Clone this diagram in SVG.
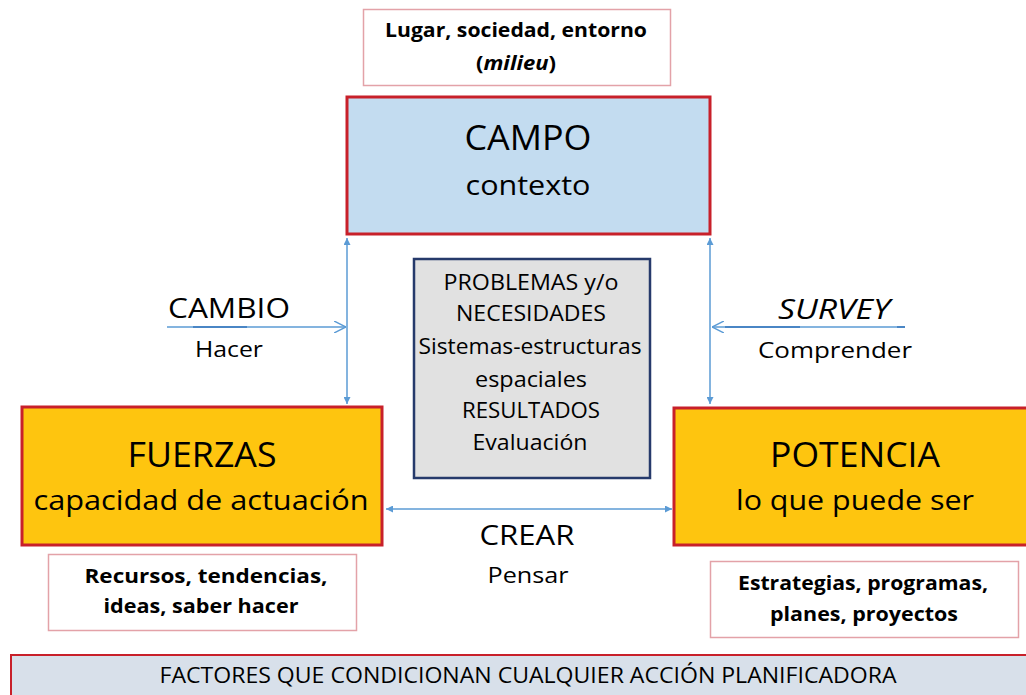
<svg xmlns="http://www.w3.org/2000/svg" width="1026" height="695" viewBox="0 0 1026 695">
<style>
text{font-family:"Open Sans","Liberation Sans",sans-serif;fill:#000;text-anchor:middle}
.note{fill:#fff;stroke:#e3a2a8;stroke-width:1.5}
.main{stroke:#c8202a;stroke-width:3}
.conn{stroke:#5b9bd5;stroke-width:1.5;fill:none}
.dk{stroke:#4a86c5;stroke-width:2;fill:none}
.b{font-weight:bold;font-size:20px}
</style>
<defs>
<marker id="tri" viewBox="0 0 10 10" refX="10" refY="5" markerWidth="7" markerHeight="7" orient="auto-start-reverse" markerUnits="userSpaceOnUse">
<path d="M0,0 L10,5 L0,10 z" fill="#5b9bd5"/>
</marker>
<marker id="open" viewBox="0 0 10 10" refX="10" refY="5" markerWidth="12" markerHeight="12" orient="auto" markerUnits="userSpaceOnUse">
<path d="M0,0 L10,5 L0,10" fill="none" stroke="#5b9bd5" stroke-width="1.2"/>
</marker>
</defs>
<rect width="1026" height="695" fill="#fff"/>

<g id="connectors">
<line class="conn" x1="347" y1="238" x2="347" y2="404" marker-start="url(#tri)" marker-end="url(#tri)"/>
<line class="conn" x1="710" y1="238" x2="710" y2="404" marker-start="url(#tri)" marker-end="url(#tri)"/>
<line class="conn" x1="386" y1="509" x2="672" y2="509" marker-start="url(#tri)" marker-end="url(#tri)"/>
<line class="conn" x1="167" y1="327" x2="346" y2="327" marker-end="url(#open)"/>
<line class="dk" x1="193" y1="327" x2="247" y2="327"/>
<line class="conn" x1="905" y1="327" x2="712" y2="327" marker-end="url(#open)"/>
<line class="dk" x1="725" y1="327" x2="800" y2="327"/>
<line class="dk" x1="897" y1="327" x2="905" y2="327"/>
</g>

<g id="milieu">
<rect class="note" x="363.5" y="9.5" width="307" height="76"/>
<text class="b" x="516" y="37" textLength="262" lengthAdjust="spacingAndGlyphs">Lugar, sociedad, entorno</text>
<text class="b" x="516" y="70" textLength="80" lengthAdjust="spacingAndGlyphs">(<tspan font-style="italic">milieu</tspan>)</text>
</g>

<g id="campo">
<rect class="main" x="347" y="97" width="363" height="137" fill="#c3dcf0"/>
<text x="528" y="150" font-size="35" textLength="127" lengthAdjust="spacingAndGlyphs">CAMPO</text>
<text x="528" y="195" font-size="28" textLength="125" lengthAdjust="spacingAndGlyphs">contexto</text>
</g>

<g id="problemas">
<rect x="414" y="259" width="236" height="219" fill="#e1e1e1" stroke="#263a6b" stroke-width="2.5"/>
<g font-size="21">
<text x="531" y="290" textLength="175" lengthAdjust="spacingAndGlyphs">PROBLEMAS y/o</text>
<text x="531" y="321" textLength="150" lengthAdjust="spacingAndGlyphs">NECESIDADES</text>
<text x="530" y="354" textLength="223" lengthAdjust="spacingAndGlyphs">Sistemas-estructuras</text>
<text x="531" y="387" textLength="112" lengthAdjust="spacingAndGlyphs">espaciales</text>
<text x="531" y="418" textLength="138" lengthAdjust="spacingAndGlyphs">RESULTADOS</text>
<text x="530" y="450" textLength="115" lengthAdjust="spacingAndGlyphs">Evaluación</text>
</g>
</g>

<g id="fuerzas">
<rect class="main" x="22" y="407" width="360" height="138" fill="#fec50f"/>
<text x="202" y="467" font-size="35" textLength="149" lengthAdjust="spacingAndGlyphs">FUERZAS</text>
<text x="201" y="510" font-size="28" textLength="335" lengthAdjust="spacingAndGlyphs">capacidad de actuación</text>
</g>

<g id="potencia">
<rect class="main" x="674" y="408" width="360" height="137" fill="#fec50f"/>
<text x="855" y="467" font-size="35" textLength="170" lengthAdjust="spacingAndGlyphs">POTENCIA</text>
<text x="855" y="510" font-size="28" textLength="238" lengthAdjust="spacingAndGlyphs">lo que puede ser</text>
</g>

<g id="cambio">
<text x="229" y="318" font-size="27" textLength="122" lengthAdjust="spacingAndGlyphs">CAMBIO</text>
<text x="229" y="357" font-size="22" textLength="68" lengthAdjust="spacingAndGlyphs">Hacer</text>
</g>

<g id="survey">
<text x="834" y="319" font-size="27" font-style="italic" textLength="112" lengthAdjust="spacingAndGlyphs">SURVEY</text>
<text x="835" y="358" font-size="22" textLength="154" lengthAdjust="spacingAndGlyphs">Comprender</text>
</g>

<g id="crear">
<text x="527" y="545" font-size="27" textLength="95" lengthAdjust="spacingAndGlyphs">CREAR</text>
<text x="528" y="583" font-size="22" textLength="81" lengthAdjust="spacingAndGlyphs">Pensar</text>
</g>

<g id="recursos">
<rect class="note" x="48.5" y="554.5" width="308" height="76"/>
<text class="b" x="206" y="583" textLength="243" lengthAdjust="spacingAndGlyphs">Recursos, tendencias,</text>
<text class="b" x="201" y="613" textLength="195" lengthAdjust="spacingAndGlyphs">ideas, saber hacer</text>
</g>

<g id="estrategias">
<rect class="note" x="710.5" y="561.5" width="308" height="76"/>
<text class="b" x="863" y="590" textLength="250" lengthAdjust="spacingAndGlyphs">Estrategias, programas,</text>
<text class="b" x="864" y="621" textLength="188" lengthAdjust="spacingAndGlyphs">planes, proyectos</text>
</g>

<g id="factores">
<rect x="11" y="655" width="1030" height="50" fill="#d8e0ea" stroke="#c8202a" stroke-width="2"/>
<text x="528" y="683" font-size="22" textLength="737" lengthAdjust="spacingAndGlyphs">FACTORES QUE CONDICIONAN CUALQUIER ACCIÓN PLANIFICADORA</text>
</g>
</svg>
